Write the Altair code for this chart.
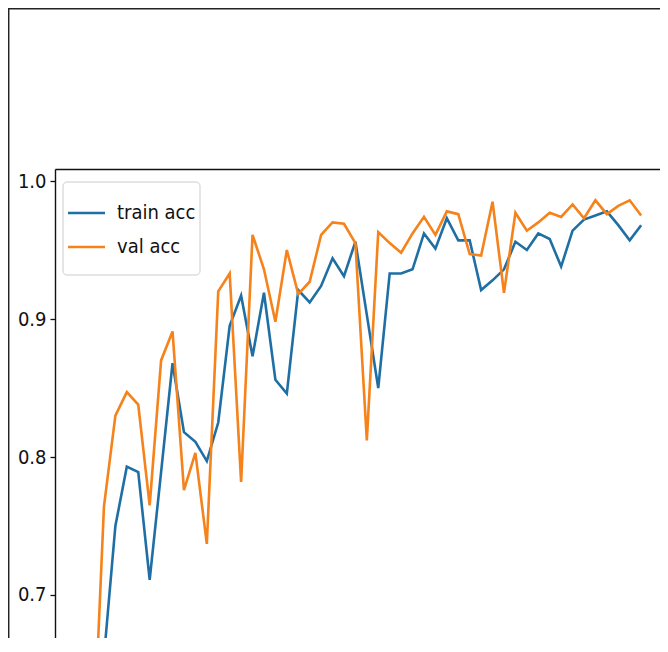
import altair as alt
import pandas as pd

# ---- data ----
epochs = list(range(50))
train_acc = [0.42, 0.55, 0.655, 0.750, 0.793, 0.789, 0.711, 0.789, 0.868, 0.818,
             0.811, 0.797, 0.825, 0.895, 0.917, 0.873, 0.919, 0.856, 0.846, 0.921,
             0.912, 0.924, 0.944, 0.931, 0.956, 0.903, 0.850, 0.933, 0.933, 0.936,
             0.962, 0.951, 0.973, 0.957, 0.957, 0.921, 0.928, 0.936, 0.956, 0.950,
             0.962, 0.958, 0.938, 0.964, 0.972, 0.975, 0.978, 0.968, 0.957, 0.968]
val_acc = [0.49, 0.573, 0.764, 0.830, 0.847, 0.838, 0.765, 0.870, 0.891, 0.776,
           0.803, 0.737, 0.920, 0.933, 0.782, 0.961, 0.936, 0.898, 0.950, 0.918,
           0.927, 0.961, 0.970, 0.969, 0.955, 0.812, 0.963, 0.955, 0.948, 0.962,
           0.974, 0.961, 0.978, 0.976, 0.947, 0.946, 0.985, 0.919, 0.977, 0.964,
           0.970, 0.977, 0.974, 0.983, 0.973, 0.986, 0.976, 0.982, 0.986, 0.975]
series_names = ["train acc", "val acc"]
series_colors = ["#1f6fa5", "#f5821a"]
y_ticks = [0.7, 0.8, 0.9, 1.0]

df = pd.DataFrame({
    "epoch": epochs + epochs,
    "acc": train_acc + val_acc,
    "series": [series_names[0]] * len(epochs) + [series_names[1]] * len(epochs),
})

FONT = "DejaVu Sans Condensed, DejaVu Sans"
W, H = 605, 469

x_scale = alt.Scale(domain=[-2.283, 50.65], nice=False, zero=False)
y_scale = alt.Scale(domain=[0.66884, 1.0087], nice=False, zero=False)

lines = alt.Chart(df).mark_line(strokeWidth=2.6, clip=True).encode(
    x=alt.X("epoch:Q", scale=x_scale,
            axis=alt.Axis(orient="top", labels=False, ticks=False, title=None,
                          grid=False, domainColor="#111111", domainWidth=1.4)),
    y=alt.Y("acc:Q", scale=y_scale,
            axis=alt.Axis(values=y_ticks, format=".1f", title=None, grid=False,
                          domainColor="#111111", domainWidth=1.4,
                          tickColor="#111111", tickWidth=1.3, tickSize=5,
                          labelFont=FONT, labelFontSize=20, labelColor="#111111",
                          labelPadding=4)),
    color=alt.Color("series:N",
                    scale=alt.Scale(domain=series_names, range=series_colors),
                    legend=None),
    order="epoch:Q",
)

one = pd.DataFrame({"k": [0]})

# legend drawn as decoration in the upper-left corner of the plot
legend_box = alt.Chart(one).mark_rect(
    fill="white", fillOpacity=0.85, stroke="#cccccc", strokeWidth=1, cornerRadius=4
).encode(x=alt.value(8), x2=alt.value(145), y=alt.value(13), y2=alt.value(106))

legend_parts = [legend_box]
for name, color, ypos in zip(series_names, series_colors, [44, 78]):
    legend_parts.append(
        alt.Chart(one).mark_rule(color=color, strokeWidth=2.6).encode(
            x=alt.value(13), x2=alt.value(50), y=alt.value(ypos))
    )
    legend_parts.append(
        alt.Chart(one).mark_text(text=name, align="left", baseline="middle",
                                 font=FONT, fontSize=20, color="#111111").encode(
            x=alt.value(62), y=alt.value(ypos))
    )

frame_left = alt.Chart(one).mark_rule(color="#222222", strokeWidth=1.5).encode(
    x=alt.value(-46.3), y=alt.value(-160.3), y2=alt.value(H)
)
frame_top = alt.Chart(one).mark_rule(color="#222222", strokeWidth=1.5).encode(
    x=alt.value(-47), x2=alt.value(W), y=alt.value(-160.3)
)

chart = alt.layer(lines, *legend_parts, frame_left, frame_top).properties(
    width=W, height=H,
    autosize=alt.AutoSizeParams(type="none"),
    padding={"left": 47, "top": 161, "right": 0, "bottom": 0},
).configure_view(strokeWidth=0, stroke="transparent").configure(background="white")

chart.save("out.html", embed_options={"renderer": "svg", "actions": False})
